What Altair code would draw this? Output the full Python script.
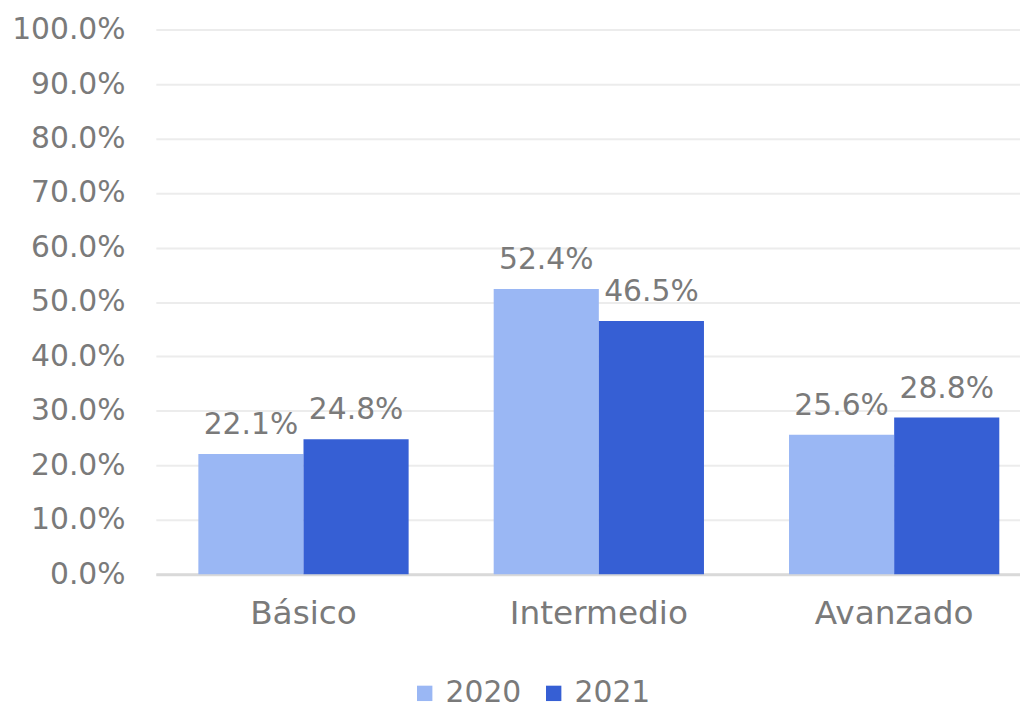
import altair as alt
import pandas as pd

categories = ["Básico", "Intermedio", "Avanzado"]
years = ["2020", "2021"]
values_2020 = [0.221, 0.524, 0.256]
values_2021 = [0.248, 0.465, 0.288]

rows = []
for c, v0, v1 in zip(categories, values_2020, values_2021):
    rows.append({"cat": c, "year": "2020", "value": v0})
    rows.append({"cat": c, "year": "2021", "value": v1})
df = pd.DataFrame(rows)

FONT = "DejaVu Sans"
GRAY = "#7a7a7a"

x = alt.X("cat:N", sort=categories, title=None,
          scale=alt.Scale(paddingInner=0.288, paddingOuter=0.144, range=[0, 893]),
          axis=alt.Axis(labelAngle=0, labelFontSize=33, labelColor=GRAY, labelFont=FONT,
                        ticks=False, domain=True, domainColor="#d9d9d9", domainWidth=3,
                        labelPadding=24))
y = alt.Y("value:Q", title=None,
          scale=alt.Scale(domain=[0, 1]),
          axis=alt.Axis(format=".1%", values=[i / 10 for i in range(11)],
                        labelFontSize=30, labelColor=GRAY, labelFont=FONT,
                        ticks=False, domain=False, gridColor="#ececec", gridWidth=2,
                        labelPadding=31))
color = alt.Color("year:N", sort=years, title=None,
                  scale=alt.Scale(domain=years, range=["#9ab7f4", "#365fd4"]),
                  legend=alt.Legend(orient="none", legendX=256, legendY=654,
                                    direction="horizontal", symbolType="square",
                                    symbolSize=240, symbolStrokeWidth=0,
                                    labelFontSize=30, labelColor=GRAY, labelFont=FONT,
                                    columnPadding=17, labelOffset=6))

base = alt.Chart(df).encode(x=x, xOffset=alt.XOffset("year:N", sort=years))

bars = base.mark_bar().encode(y=y, color=color)
labels = base.mark_text(baseline="bottom", dy=-14, fontSize=30, color=GRAY, font=FONT).encode(
    y="value:Q", text=alt.Text("value:Q", format=".1%"))

chart = (bars + labels).properties(
    width=871, height=549,
    autosize=alt.AutoSizeParams(type="none"),
    padding={"left": 149, "top": 19, "right": 0, "bottom": 137},
).configure_view(stroke=None)

chart.save("out.html", embed_options={"renderer": "svg", "actions": False})
